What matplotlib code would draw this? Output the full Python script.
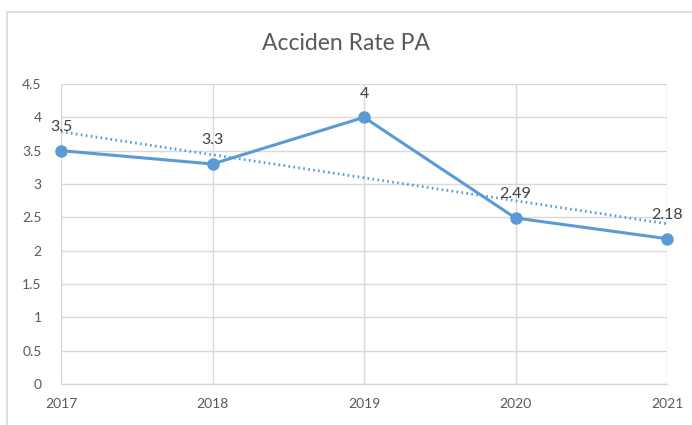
import matplotlib
matplotlib.use("Agg")
import matplotlib.pyplot as plt
from matplotlib.patches import Rectangle
import numpy as np

years = ["2017", "2018", "2019", "2020", "2021"]
rates = [3.5, 3.3, 4.0, 2.49, 2.18]
labels = ["3.5", "3.3", "4", "2.49", "2.18"]
yticks = [0, 0.5, 1, 1.5, 2, 2.5, 3, 3.5, 4, 4.5]
ytick_labels = ["0", "0.5", "1", "1.5", "2", "2.5", "3", "3.5", "4", "4.5"]

plt.rcParams['font.family'] = ['Lato', 'DejaVu Sans']

W, H = 692, 425
fig = plt.figure(figsize=(W / 100, H / 100), dpi=100)
ax = fig.add_axes([61 / W, 1 - 384 / H, (667 - 61) / W, (384 - 84) / H])

# chart frame (cut off at right and bottom)
fig.patches.append(Rectangle((7 / W, -0.1), 1.2, 1 - 12 / H + 0.1,
                             transform=fig.transFigure, fill=False,
                             edgecolor='#D9D9D9', linewidth=1.2))

x = np.arange(len(years))
blue = '#5B9BD5'
ax.plot(x, rates, color=blue, linewidth=2.2, marker='o', markersize=8,
        zorder=3, clip_on=False)

# linear trendline
coef = np.polyfit(x, rates, 1)
ax.plot(x, np.polyval(coef, x), color=blue, linewidth=2.0,
        linestyle=(0, (0.6, 1.2)), zorder=2, clip_on=False)

for xi, yi, lab in zip(x, rates, labels):
    ax.annotate(lab, (xi, yi), xytext=(0, 17), textcoords='offset points',
                ha='center', va='center', fontsize=11.5, color='#404040')

ax.set_xlim(0, len(years) - 1)
ax.set_ylim(0, 4.5)
ax.set_xticks(x)
ax.set_xticklabels(years)
ax.set_yticks(yticks)
ax.set_yticklabels(ytick_labels)
ax.tick_params(axis='both', length=0, colors='#595959', labelsize=10)
ax.tick_params(axis='x', pad=10)
ax.tick_params(axis='y', pad=14)
ax.grid(True, color='#D9D9D9', linewidth=1.0)
ax.set_axisbelow(True)
for s in ['top', 'right', 'left']:
    ax.spines[s].set_visible(False)
ax.spines['bottom'].set_color('#D9D9D9')
ax.spines['bottom'].set_linewidth(1.0)

fig.text(0.5, 1 - 44 / H, "Acciden Rate PA", ha='center', va='center',
         fontsize=16.5, color='#595959')

fig.savefig("out.png", dpi=100)
